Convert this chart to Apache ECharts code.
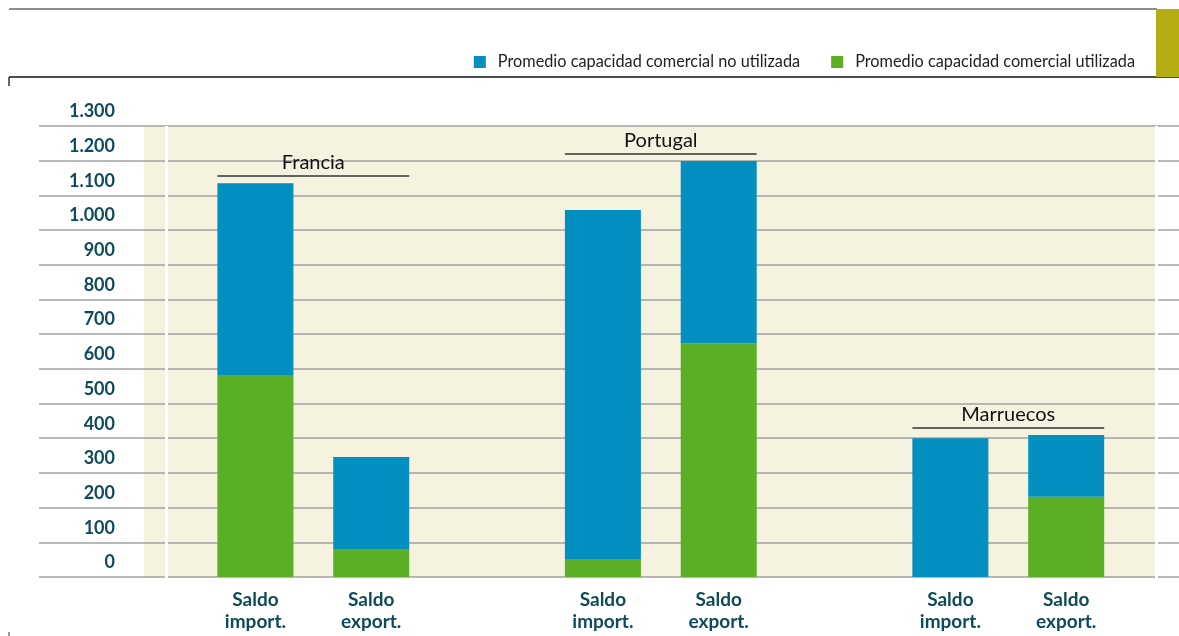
<!DOCTYPE html>
<html>
<head>
<meta charset="utf-8">
<script src="https://cdn.jsdelivr.net/npm/echarts@6/dist/echarts.min.js"></script>
<style>
html,body{margin:0;padding:0;background:#fff;}
#container{width:1179px;height:636px;}
</style>
</head>
<body>
<div id="container"></div>
<script>
// datos (MW)
var grupos = ['Francia', 'Portugal', 'Marruecos'];
var barras = ['Saldo\nimport.', 'Saldo\nexport.'];
var utilizada = [582, 81, 52, 674, 0, 231];
var noUtilizada = [553, 265, 1006, 525, 400, 178];
var yTicks = [0, 1300, 100];

var AZUL = '#038fbf', VERDE = '#5baf25', TEAL = '#0e4b5a';
var FONT = 'Lato';

// categorias con un hueco entre paises
var cats = [], dUtil = [], dNoUtil = [], catIdx = [];
grupos.forEach(function (g, gi) {
    if (gi > 0) { cats.push(''); dUtil.push('-'); dNoUtil.push('-'); }
    var idx = [];
    barras.forEach(function (b, bi) {
        idx.push(cats.length);
        cats.push(b);
        dUtil.push(utilizada[gi * 2 + bi]);
        dNoUtil.push(noUtilizada[gi * 2 + bi]);
    });
    catIdx.push(idx);
});

var dom = document.getElementById('container');
var myChart = echarts.init(dom, null, {renderer: 'canvas'});
var barW = 76;

var option = {
    animation: false,
    textStyle: {fontFamily: FONT},
    legend: {
        data: ['Promedio capacidad comercial no utilizada', 'Promedio capacidad comercial utilizada'],
        right: 44,
        top: 54,
        icon: 'rect',
        itemWidth: 12,
        itemHeight: 12,
        itemGap: 31,
        padding: 0,
        textStyle: {fontFamily: FONT, fontSize: 16.3, color: '#222', padding: [0, 0, 0, 7]}
    },
    grid: [
        {left: 39, right: 0, top: 126, height: 451},
        {left: 197.5, width: 926.6, top: 126, height: 451}
    ],
    xAxis: [
        {gridIndex: 0, type: 'value', show: false},
        {
            gridIndex: 1,
            type: 'category',
            data: cats,
            axisLine: {show: false},
            axisTick: {show: false},
            axisLabel: {
                interval: 0,
                margin: 12,
                color: TEAL,
                fontFamily: FONT,
                fontWeight: 'bold',
                fontSize: 19,
                lineHeight: 22
            }
        }
    ],
    yAxis: [
        {
            gridIndex: 0,
            type: 'value',
            min: yTicks[0],
            max: yTicks[1],
            interval: yTicks[2],
            axisLine: {show: false},
            axisTick: {show: false},
            splitLine: {lineStyle: {color: '#a0a0a0', width: 1.5}},
            axisLabel: {
                inside: true,
                margin: 76,
                align: 'right',
                verticalAlign: 'bottom',
                lineHeight: 29,
                color: TEAL,
                fontFamily: FONT,
                fontWeight: 'bold',
                fontSize: 18,
                formatter: function (v) {
                    return String(v).replace(/\B(?=(\d{3})+(?!\d))/g, '.');
                }
            }
        },
        {gridIndex: 1, type: 'value', min: yTicks[0], max: yTicks[1], show: false, splitLine: {show: false}}
    ],
    series: [
        {
            name: 'Promedio capacidad comercial utilizada',
            type: 'bar',
            xAxisIndex: 1,
            yAxisIndex: 1,
            stack: 'total',
            barWidth: barW,
            itemStyle: {color: VERDE},
            data: dUtil
        },
        {
            name: 'Promedio capacidad comercial no utilizada',
            type: 'bar',
            xAxisIndex: 1,
            yAxisIndex: 1,
            stack: 'total',
            barWidth: barW,
            itemStyle: {color: AZUL},
            data: dNoUtil
        }
    ]
};

myChart.setOption(option);

// marco, fondo y rotulos de pais
var deco = [
    {type: 'rect', z: -10, shape: {x: 144, y: 126, width: 1011, height: 451}, style: {fill: '#f5f3e0'}},
    {type: 'rect', z: 1, shape: {x: 165, y: 126, width: 3, height: 452}, style: {fill: '#fff'}},
    {type: 'rect', z: 1, shape: {x: 1155, y: 126, width: 3, height: 452}, style: {fill: '#fff'}},
    {type: 'line', shape: {x1: 9, y1: 9, x2: 1157, y2: 9}, style: {stroke: '#666', lineWidth: 1.5}},
    {type: 'line', shape: {x1: 9, y1: 77, x2: 1179, y2: 77}, style: {stroke: '#111', lineWidth: 1.5}},
    {type: 'line', shape: {x1: 9, y1: 77, x2: 9, y2: 86}, style: {stroke: '#333', lineWidth: 1.5}},
    {type: 'line', shape: {x1: 9, y1: 632, x2: 9, y2: 636}, style: {stroke: '#333', lineWidth: 1}},
    {type: 'rect', shape: {x: 1156, y: 9, width: 23, height: 68}, style: {fill: '#b3ac12'}}
];

grupos.forEach(function (g, gi) {
    var i0 = catIdx[gi][0], i1 = catIdx[gi][1];
    var top = Math.max(utilizada[gi * 2] + noUtilizada[gi * 2], utilizada[gi * 2 + 1] + noUtilizada[gi * 2 + 1]);
    var p0 = myChart.convertToPixel({xAxisIndex: 1, yAxisIndex: 1}, [i0, top]);
    var p1 = myChart.convertToPixel({xAxisIndex: 1, yAxisIndex: 1}, [i1, top]);
    var y = Math.round(p0[1]) - 7;
    var xa = p0[0] - barW / 2, xb = p1[0] + barW / 2;
    deco.push({type: 'line', shape: {x1: xa, y1: y, x2: xb, y2: y}, style: {stroke: '#333', lineWidth: 1.5}});
    deco.push({
        type: 'text', x: (xa + xb) / 2, y: y - 13,
        style: {text: g, fill: '#111', font: '20px ' + FONT, align: 'center', verticalAlign: 'middle'}
    });
});

myChart.setOption({graphic: deco});
window.addEventListener('resize', myChart.resize);
</script>
</body>
</html>
